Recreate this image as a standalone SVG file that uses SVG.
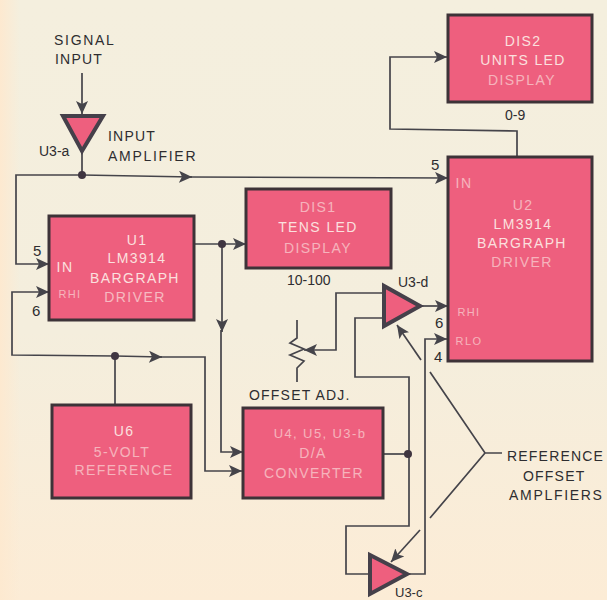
<svg xmlns="http://www.w3.org/2000/svg" width="607" height="600" viewBox="0 0 607 600">
<style>
text{font-family:"Liberation Sans",Arial,sans-serif;font-size:14px;fill:#2e2d30}
.l{letter-spacing:1.7px}
.m{letter-spacing:1.2px}
.b{fill:#ee5f7e;stroke:#3d3338;stroke-width:3}
.t{fill:#ee5f7e;stroke:#45404a;stroke-width:4;stroke-linejoin:miter}
.w{fill:#fbe0df;text-anchor:middle;letter-spacing:1.4px;font-size:14px}
.f{opacity:.65}
.c path,.c line{fill:none;stroke:#45444a;stroke-width:1.7}
</style>
<defs>
<linearGradient id="bg" x1="0" y1="0" x2="0" y2="1"><stop offset="0" stop-color="#f4efde"/><stop offset=".55" stop-color="#f4eedd"/><stop offset="1" stop-color="#fcecd6"/></linearGradient>
<linearGradient id="lft" x1="0" y1="0" x2="1" y2="0"><stop offset="0" stop-color="#fde9d0"/><stop offset="1" stop-color="#fde9d0" stop-opacity="0"/></linearGradient>
<marker id="a" markerUnits="userSpaceOnUse" markerWidth="14" markerHeight="12" refX="13" refY="6" orient="auto"><path d="M0,0L13,6L0,12L3,6Z" fill="#45444a"/></marker>
</defs>
<rect width="607" height="600" fill="url(#bg)"/>
<rect width="20" height="600" fill="url(#lft)"/>
<g id="connectors" class="c">
<path d="M82,73V114" marker-end="url(#a)"/>
<path d="M82,150V175"/>
<path d="M82,175L192,177" marker-end="url(#a)"/>
<path d="M190,177L448,178" marker-end="url(#a)"/>
<path d="M82,175H16V264H49" marker-end="url(#a)"/>
<path d="M115,356L12,355V292H49" marker-end="url(#a)"/>
<path d="M115,356L162,357" marker-end="url(#a)"/>
<path d="M160,357H205V471H242" marker-end="url(#a)"/>
<path d="M115,356V405"/>
<path d="M194,244H246" marker-end="url(#a)"/>
<path d="M222,244V332" marker-end="url(#a)"/>
<path d="M221,330V452H243" marker-end="url(#a)"/>
<path d="M517,157V131L390,129V57H447" marker-end="url(#a)"/>
<path d="M420,306H448" marker-end="url(#a)"/>
<path d="M384,293H336V350H304" marker-end="url(#a)"/>
<path d="M384,318H355V377H409V526H346V574H370"/>
<path d="M383,454H408"/>
<path d="M407,574H425V339H447" marker-end="url(#a)"/>
<path d="M421,360L397,325" marker-end="url(#a)"/>
<path d="M430,372L485,453H502M485,453L430,518"/>
<path d="M420,530L391,562" marker-end="url(#a)"/>
<path d="M297,320V338L290,343L304,349L290,355L304,361L297,368V382" stroke-width="2.2"/>
<g fill="#3f3540" stroke="none"><circle cx="82" cy="175" r="4"/><circle cx="222" cy="244" r="4"/><circle cx="115" cy="356" r="4"/><circle cx="408" cy="454" r="4"/></g>
</g>
<g id="u3a"><polygon class="t" points="63,116 103,116 82,151"/><text x="39" y="156">U3-a</text></g>
<g id="u1"><rect class="b" x="49" y="216" width="145" height="104"/><text class="w" x="137" y="245">U1</text><text class="w" x="137" y="263">LM3914</text><text class="w" x="135" y="283">BARGRAPH</text><text class="w" x="135" y="302" opacity=".7">DRIVER</text><text class="w" x="65" y="272">IN</text><text class="w f" x="70" y="298" style="font-size:11px">RHI</text></g>
<g id="dis1"><rect class="b" x="246" y="189" width="145" height="79"/><text class="w f" x="318" y="212">DIS1</text><text class="w" x="318" y="232">TENS LED</text><text class="w f" x="318" y="253">DISPLAY</text></g>
<g id="dis2"><rect class="b" x="448" y="15" width="144" height="87"/><text class="w" x="523" y="46">DIS2</text><text class="w" x="523" y="65">UNITS LED</text><text class="w f" x="522" y="85">DISPLAY</text></g>
<g id="u2"><rect class="b" x="448" y="157" width="144" height="204"/><text class="w f" x="523" y="210">U2</text><text class="w" x="523" y="229">LM3914</text><text class="w" x="522" y="248">BARGRAPH</text><text class="w f" x="522" y="267">DRIVER</text><text class="w f" x="464" y="188">IN</text><text class="w f" x="469" y="316" style="font-size:11px">RHI</text><text class="w f" x="469" y="345" style="font-size:11px">RLO</text></g>
<g id="u6"><rect class="b" x="52" y="405" width="139" height="93"/><text class="w" x="124" y="436">U6</text><text class="w f" x="122" y="457">5-VOLT</text><text class="w f" x="124" y="475">REFERENCE</text></g>
<g id="u4"><rect class="b" x="243" y="408" width="140" height="90"/><text class="w f" x="320" y="438" style="font-size:13px">U4, U5, U3-b</text><text class="w f" x="313" y="458">D/A</text><text class="w f" x="314" y="478">CONVERTER</text></g>
<g id="u3d"><polygon class="t" points="384,286 384,326 420,306"/></g>
<g id="u3c"><polygon class="t" points="370,555 370,594 407,574"/></g>
<g id="labels">
<text class="l" x="54" y="45">SIGNAL</text><text class="m" x="55" y="64">INPUT</text>
<text class="m" x="108" y="141">INPUT</text><text class="l" x="108" y="161">AMPLIFIER</text>
<text x="33" y="256" style="font-size:15px">5</text><text x="32" y="316" style="font-size:15px">6</text>
<text x="431" y="170" style="font-size:15px">5</text><text x="435" y="328" style="font-size:15px">6</text><text x="434" y="362" style="font-size:15px">4</text>
<text x="505" y="120">0-9</text><text x="287" y="285">10-100</text>
<text x="398" y="287">U3-d</text><text x="395" y="597" style="font-size:13px">U3-c</text>
<text class="m" x="249" y="400">OFFSET ADJ.</text>
<text class="m" x="507" y="461">REFERENCE</text><text class="m" x="523" y="481">OFFSET</text><text class="l" x="509" y="500">AMPLFIERS</text>
</g>
</svg>
